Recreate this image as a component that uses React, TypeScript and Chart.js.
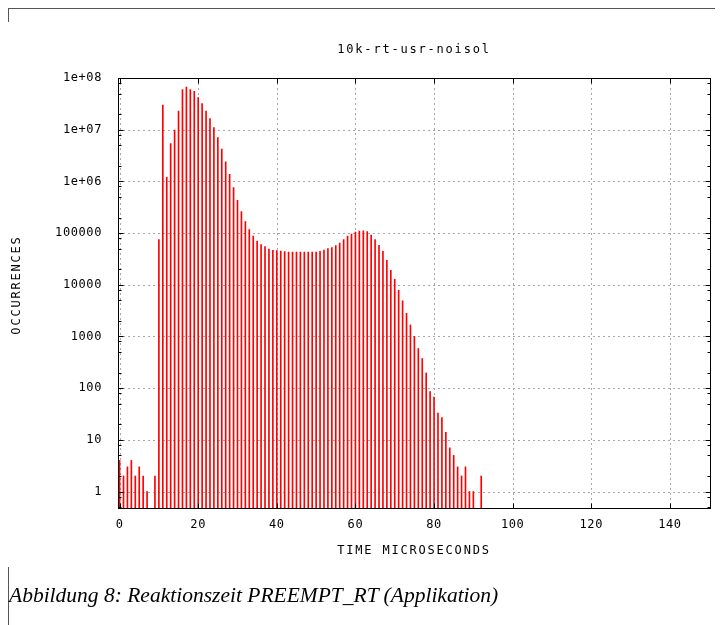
import React, { useEffect, useRef } from 'react';
import { Chart, registerables } from 'chart.js';

Chart.register(...registerables);

// ---- data ----
const chartTitle = '10k-rt-usr-noisol';
const xAxisTitle = 'TIME MICROSECONDS';
const yAxisTitle = 'OCCURRENCES';
const caption = 'Abbildung 8: Reaktionszeit PREEMPT_RT (Applikation)';

const timeMicroseconds = [
  0, 1, 2, 3, 4, 5, 6, 7, 8, 9,
  10, 11, 12, 13, 14, 15, 16, 17, 18, 19,
  20, 21, 22, 23, 24, 25, 26, 27, 28, 29,
  30, 31, 32, 33, 34, 35, 36, 37, 38, 39,
  40, 41, 42, 43, 44, 45, 46, 47, 48, 49,
  50, 51, 52, 53, 54, 55, 56, 57, 58, 59,
  60, 61, 62, 63, 64, 65, 66, 67, 68, 69,
  70, 71, 72, 73, 74, 75, 76, 77, 78, 79,
  80, 81, 82, 83, 84, 85, 86, 87, 88, 89,
  90, 91, 92,
];

const occurrences: (number | null)[] = [
  4, 2, 3, 4, 2, 3, 2, 1, null, 2,
  75000, 3.0e7, 1.2e6, 5.4e6, 9.8e6, 2.3e7, 6.0e7, 6.7e7, 6.0e7, 5.5e7,
  4.2e7, 3.2e7, 2.3e7, 1.64e7, 1.1e7, 7.0e6, 4.2e6, 2.4e6, 1.37e6, 7.6e5,
  4.3e5, 2.6e5, 1.66e5, 1.17e5, 87000, 70000, 60000, 55000, 49000, 46500,
  46000, 45000, 44000, 43000, 43000, 43000, 43000, 43000, 43000, 43000,
  43000, 44500, 47000, 50000, 52500, 57000, 64000, 75000, 87000, 96000,
  105000, 109000, 110000, 107000, 91000, 75000, 58000, 44300, 29800, 19000,
  12800, 7800, 4900, 2800, 1670, 1000, 583, 374, 197, 86,
  67, 33, 27, 14, 7, 5, 3, 2, 3, 1,
  1, null, 2,
];

const xTickValues = [0, 20, 40, 60, 80, 100, 120, 140];
const yTickValues = [1, 10, 100, 1000, 10000, 100000, 1e6, 1e7, 1e8];
const yTickLabels = ['1', '10', '100', '1000', '10000', '100000', '1e+06', '1e+07', '1e+08'];
const yMinorMultipliers = [2, 5, 8];

const MONO = '"DejaVu Sans Mono", monospace';
const TICK_SPACING = '0.6px';
const TITLE_SPACING = '1.8px';

const gnuplotPlugin = {
  id: 'gnuplotFrame',
  beforeUpdate(chart: any) {
    chart.ctx.letterSpacing = TICK_SPACING;
  },
  beforeDraw(chart: any) {
    chart.ctx.letterSpacing = TICK_SPACING;
  },
  beforeDatasetsDraw(chart: any) {
    const { ctx, chartArea: a, scales } = chart;
    const x = scales.x;
    const y = scales.y;
    ctx.save();
    ctx.strokeStyle = '#a8a8a8';
    ctx.lineWidth = 1;
    ctx.setLineDash([2, 3]);
    for (const v of xTickValues) {
      const px = Math.round(x.getPixelForValue(v)) + 0.5;
      ctx.beginPath();
      ctx.moveTo(px, a.top);
      ctx.lineTo(px, a.bottom);
      ctx.stroke();
    }
    for (const v of yTickValues) {
      const py = Math.round(y.getPixelForValue(v)) + 0.5;
      if (py <= a.top + 1) continue;
      ctx.beginPath();
      ctx.moveTo(a.left, py);
      ctx.lineTo(a.right, py);
      ctx.stroke();
    }
    ctx.restore();
  },
  afterDatasetsDraw(chart: any) {
    const { ctx, chartArea: a, scales } = chart;
    const x = scales.x;
    const y = scales.y;
    ctx.save();
    ctx.setLineDash([]);
    ctx.strokeStyle = '#000';
    ctx.lineWidth = 1;
    const L = Math.round(a.left) + 0.5;
    const R = Math.round(a.right) + 0.5;
    const T = Math.round(a.top) + 0.5;
    const B = Math.round(a.bottom) + 0.5;
    ctx.strokeRect(L, T, R - L, B - T);
    ctx.beginPath();
    for (const v of xTickValues) {
      const px = Math.round(x.getPixelForValue(v)) + 0.5;
      ctx.moveTo(px, B);
      ctx.lineTo(px, B - 5);
      ctx.moveTo(px, T);
      ctx.lineTo(px, T + 5);
    }
    for (const v of yTickValues) {
      const py = Math.round(y.getPixelForValue(v)) + 0.5;
      ctx.moveTo(L, py);
      ctx.lineTo(L + 5, py);
      ctx.moveTo(R, py);
      ctx.lineTo(R - 5, py);
    }
    for (let e = -1; e <= 7; e++) {
      for (const m of yMinorMultipliers) {
        const v = m * Math.pow(10, e);
        if (v < y.min || v > y.max) continue;
        const py = Math.round(y.getPixelForValue(v)) + 0.5;
        ctx.moveTo(L, py);
        ctx.lineTo(L + 3, py);
        ctx.moveTo(R, py);
        ctx.lineTo(R - 3, py);
      }
    }
    ctx.stroke();

    // titles
    ctx.fillStyle = '#000';
    ctx.font = `12px ${MONO}`;
    ctx.letterSpacing = TITLE_SPACING;
    ctx.textAlign = 'center';
    ctx.textBaseline = 'middle';
    const cx = (a.left + a.right) / 2;
    ctx.fillText(chartTitle, cx, 42);
    ctx.fillText(xAxisTitle, cx, 543);
    ctx.translate(9, 277);
    ctx.rotate(-Math.PI / 2);
    ctx.fillText(yAxisTitle, 0, 0);
    ctx.restore();
    ctx.letterSpacing = TICK_SPACING;
  },
};

export default function App() {
  const canvasRef = useRef<HTMLCanvasElement | null>(null);

  useEffect(() => {
    const canvas = canvasRef.current;
    if (!canvas) return;
    const points = timeMicroseconds
      .map((t, i) => ({ x: t, y: occurrences[i] }))
      .filter((p) => p.y !== null && p.y !== undefined);

    const chart = new Chart(canvas, {
      type: 'bar',
      data: {
        datasets: [
          {
            label: chartTitle,
            data: points as any,
            backgroundColor: '#ff0000',
            borderWidth: 0,
            barThickness: 1,
          },
        ],
      },
      options: {
        animation: false,
        responsive: false,
        maintainAspectRatio: false,
        devicePixelRatio: 1,
        layout: { padding: { left: 0, right: 13, top: 70, bottom: 0 } },
        plugins: {
          legend: { display: false },
          tooltip: { enabled: false },
          title: { display: false },
        },
        scales: {
          x: {
            type: 'linear',
            min: -0.4,
            max: 150.2,
            offset: false,
            bounds: 'data',
            grid: { display: false, drawTicks: false, offset: false },
            border: { display: false },
            ticks: {
              autoSkip: false,
              maxRotation: 0,
              padding: 10,
              color: '#000',
              font: { family: MONO, size: 12 },
              callback: (v: any) => String(v),
            },
            afterBuildTicks: (s: any) => {
              s.ticks = xTickValues.map((v) => ({ value: v }));
            },
            afterFit: (s: any) => {
              s.height = 60;
            },
          } as any,
          y: {
            type: 'logarithmic',
            min: 0.48,
            max: 1e8,
            bounds: 'data',
            grid: { display: false, drawTicks: false },
            border: { display: false },
            ticks: {
              autoSkip: false,
              padding: 16,
              color: '#000',
              font: { family: MONO, size: 12 },
              callback: (v: any) => {
                const i = yTickValues.indexOf(Number(v));
                return i >= 0 ? yTickLabels[i] : '';
              },
            },
            afterBuildTicks: (s: any) => {
              s.ticks = yTickValues.map((v) => ({ value: v, major: true }));
            },
            afterFit: (s: any) => {
              s.width = 110;
            },
          } as any,
        },
      },
      plugins: [gnuplotPlugin as any],
    });
    return () => chart.destroy();
  }, []);

  const line = '#555';
  return (
    <div style={{ position: 'relative', width: 715, height: 617 }}>
      <canvas
        ref={canvasRef}
        width={715}
        height={560}
        style={{ position: 'absolute', left: 0, top: 0, width: 715, height: 560, display: 'block' }}
      />
      <div style={{ position: 'absolute', left: 0, top: 0, width: 715, height: 1, background: line }} />
      <div style={{ position: 'absolute', left: 0, top: 0, width: 1, height: 14, background: line }} />
      <div style={{ position: 'absolute', left: 0, top: 559, width: 1, height: 58, background: line }} />
      <div
        style={{
          position: 'absolute',
          left: 1,
          top: 577,
          fontFamily: '"Liberation Serif", "Times New Roman", serif',
          fontStyle: 'italic',
          fontSize: 21.5,
          lineHeight: '21px',
          whiteSpace: 'nowrap',
          color: '#000',
        }}
      >
        {caption}
      </div>
    </div>
  );
}
